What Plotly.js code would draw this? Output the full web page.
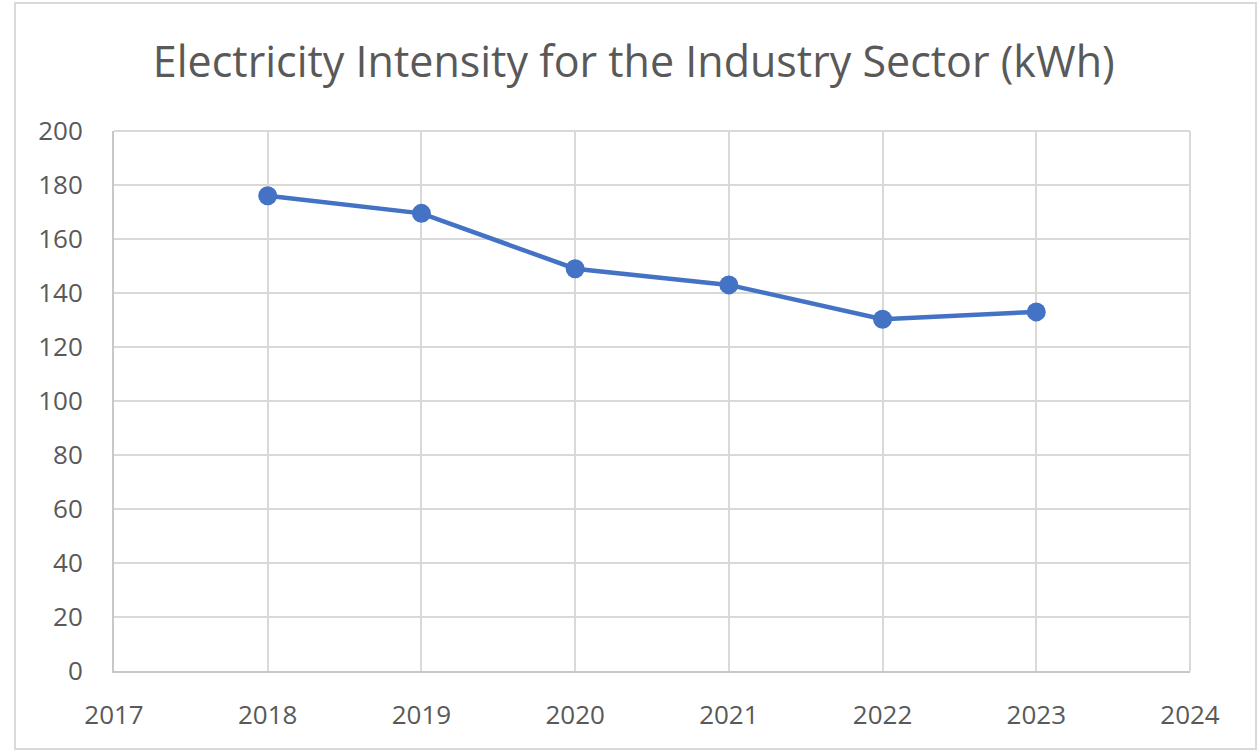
<!DOCTYPE html>
<html><head><meta charset="utf-8">
<script src="https://cdn.plot.ly/plotly-3.0.1.min.js"></script>
<style>html,body{margin:0;padding:0;background:#fff;}#chart{width:1260px;height:752px;}</style>
</head><body><div id="chart"></div>
<script>
const years = [2018, 2019, 2020, 2021, 2022, 2023];
const intensity = [176, 169.5, 149, 143, 130.3, 133];
const xTicks = [2017, 2018, 2019, 2020, 2021, 2022, 2023, 2024];
const yTicks = [0, 20, 40, 60, 80, 100, 120, 140, 160, 180, 200];
const titleText = 'Electricity Intensity for the Industry Sector (kWh)';

const trace = {
  x: years, y: intensity, type: 'scatter', mode: 'lines+markers',
  line: {color: '#4472C4', width: 4.5},
  marker: {color: '#4472C4', size: 19},
  hoverinfo: 'x+y'
};
const layout = {
  width: 1260, height: 752,
  paper_bgcolor: '#fff', plot_bgcolor: '#fff',
  margin: {l: 114, r: 70, t: 131, b: 81},
  font: {family: 'Open Sans, Liberation Sans, sans-serif', color: '#595959'},
  title: {text: titleText, x: 0.503, xanchor: 'center', y: 0.918, yanchor: 'middle',
          font: {size: 43, color: '#595959', family: 'Open Sans, sans-serif'}},
  xaxis: {range: [2017, 2024], tickvals: xTicks, ticktext: xTicks.map(String),
          showgrid: true, gridcolor: '#d9d9d9', gridwidth: 2,
          showline: true, linecolor: '#c8c8c8', linewidth: 2, zeroline: false,
          ticks: 'outside', ticklen: 20, tickcolor: 'rgba(0,0,0,0)',
          tickfont: {size: 26, color: '#595959'}, automargin: false},
  yaxis: {range: [0, 200], tickvals: yTicks, showgrid: true, gridcolor: '#d9d9d9', gridwidth: 2,
          showline: true, linecolor: '#c8c8c8', linewidth: 2, zeroline: false, mirror: false,
          ticks: 'outside', ticklen: 24, tickcolor: 'rgba(0,0,0,0)',
          tickfont: {size: 26, color: '#595959'}, automargin: false},
  showlegend: false,
  shapes: [
    {type: 'line', xref: 'paper', yref: 'paper', x0: 1, x1: 1, y0: 0, y1: 1,
     line: {color: '#d9d9d9', width: 2}},
    {type: 'line', xref: 'paper', yref: 'paper', x0: 0, x1: 1, y0: 1, y1: 1,
     line: {color: '#d9d9d9', width: 2}}
  ]
};
Plotly.newPlot('chart', [trace], layout, {displayModeBar: false, staticPlot: true}).then(() => {
  const svg = document.querySelector('#chart .main-svg');
  const ns = 'http://www.w3.org/2000/svg';
  const r = document.createElementNS(ns, 'rect');
  r.setAttribute('x', 15); r.setAttribute('y', 3);
  r.setAttribute('width', 1241); r.setAttribute('height', 746);
  r.setAttribute('fill', 'none'); r.setAttribute('stroke', '#d9d9d9'); r.setAttribute('stroke-width', 2);
  svg.appendChild(r);
});
</script>
</body></html>
